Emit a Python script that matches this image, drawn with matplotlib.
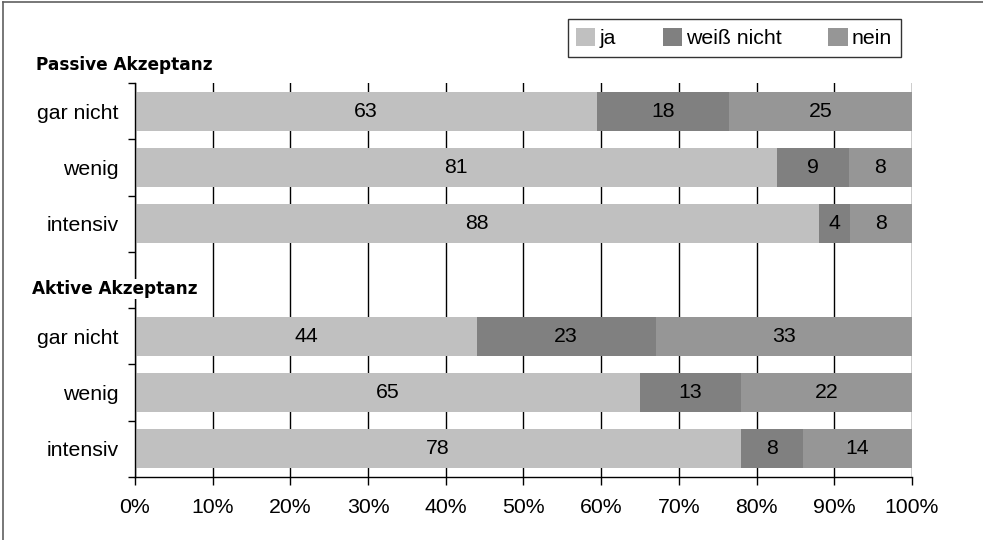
import numpy as np
import matplotlib.pyplot as plt
from matplotlib.lines import Line2D

# data (counts, each row is shown as share of its sum)
row_labels = ['gar nicht', 'wenig', 'intensiv', '', 'gar nicht', 'wenig', 'intensiv']
ja = [63, 81, 88, 0, 44, 65, 78]
weiss_nicht = [18, 9, 4, 0, 23, 13, 8]
nein = [25, 8, 8, 0, 33, 22, 14]
series_names = ['ja', 'weiß nicht', 'nein']
group_titles = ['Passive Akzeptanz', 'Aktive Akzeptanz']
colors = ['#c0c0c0', '#808080', '#969696']

plt.rcParams['font.family'] = ['Liberation Sans', 'DejaVu Sans']
fs = 15.3

fig = plt.figure(figsize=(9.83, 5.40), dpi=100)
ax = fig.add_axes([0.1373, 0.1167, 0.7905, 0.7296])

data = np.array([ja, weiss_nicht, nein], dtype=float)
totals = data.sum(axis=0)
totals[totals == 0] = 1
shares = data / totals

y = np.arange(len(row_labels))
left = np.zeros(len(row_labels))
for k in range(3):
    ax.barh(y, shares[k], left=left, height=0.69, color=colors[k],
            label=series_names[k], zorder=2)
    for i in range(len(y)):
        if data[k, i] > 0:
            ax.text(left[i] + shares[k, i] / 2, y[i], '%d' % data[k, i],
                    ha='center', va='center', fontsize=fs, zorder=3)
    left += shares[k]

ax.set_xlim(0, 1)
ax.set_ylim(len(y) - 0.5, -0.5)
ax.set_xticks(np.linspace(0, 1, 11))
ax.set_xticklabels(['%d%%' % v for v in range(0, 101, 10)], fontsize=fs)
ax.xaxis.grid(True, color='black', linewidth=1, zorder=1)
ax.set_axisbelow(True)

ax.set_yticks(np.arange(-0.5, len(y), 1))
ax.set_yticklabels([])
ax.set_yticks(y, minor=True)
ax.set_yticklabels(row_labels, minor=True, fontsize=fs)
ax.tick_params(axis='y', which='major', length=5, width=1)
ax.tick_params(axis='y', which='minor', length=0, pad=12)
ax.tick_params(axis='x', length=6, width=1, pad=9)

for s in ['top', 'right']:
    ax.spines[s].set_visible(False)
for s in ['left', 'bottom']:
    ax.spines[s].set_linewidth(1)

# group headings
fig.text(0.037, 1 - 65 / 540, group_titles[0], fontsize=12.2, fontweight='bold',
         family='DejaVu Sans', va='center', ha='left')
fig.text(0.033, 1 - 289 / 540, group_titles[1], fontsize=12.2, fontweight='bold',
         family='DejaVu Sans', va='center', ha='left', zorder=5,
         bbox=dict(facecolor='white', edgecolor='none', pad=1))

leg = fig.legend(loc='center', bbox_to_anchor=(0.7467, 0.9296), ncol=3,
                 fontsize=fs, frameon=True, fancybox=False, edgecolor='black',
                 handlelength=0.9, handleheight=0.9, handletextpad=0.2,
                 columnspacing=2.2, borderpad=0.4)
leg.get_frame().set_linewidth(1)

# outer chart frame (left and top edge only visible)
fig.add_artist(Line2D([0.003, 0.003], [0, 0.996], color='#606060', lw=1.2))
fig.add_artist(Line2D([0.003, 1], [0.996, 0.996], color='#606060', lw=1.2))

fig.savefig('out.png', dpi=100)
